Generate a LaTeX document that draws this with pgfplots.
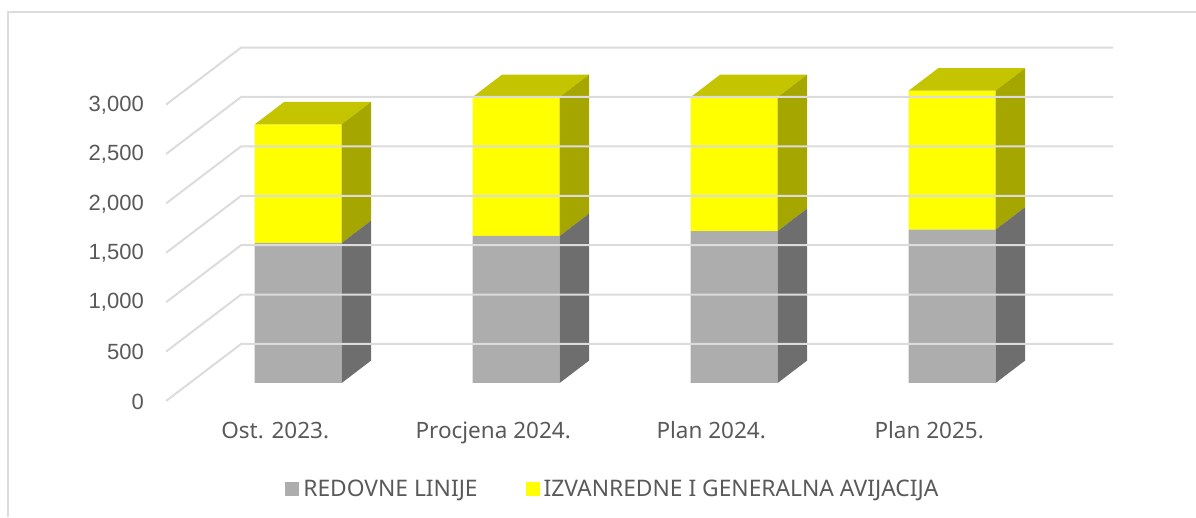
\documentclass[border=0pt]{standalone}
\usepackage{fontspec}
\setmainfont{Liberation Sans}
\newfontfamily\labfont{Noto Sans}
\usepackage{pgfplots}
\pgfplotsset{compat=1.18}
\definecolor{txt}{HTML}{595959}
\definecolor{gridc}{HTML}{DCDCDC}
\definecolor{grayF}{HTML}{ADADAD}
\definecolor{grayS}{HTML}{6E6E6E}
\definecolor{yelF}{HTML}{FFFF00}
\definecolor{yelS}{HTML}{A6A600}
\definecolor{yelT}{HTML}{C4C400}
\pgfplotsset{
  gl/.style={sharp plot,no markers,stack plots=false,forget plot,draw=gridc,line width=2pt},
  face/.style={sharp plot,no markers,stack plots=false,forget plot,draw=none,fill=#1},
}
\begin{document}
\begin{tikzpicture}
\useasboundingbox (0,0) rectangle (1196pt,517pt);
\draw[gridc,line width=2pt] (8pt,0)--(8pt,505pt)--(1196pt,505pt);
\begin{axis}[
  at={(160pt,112pt)},anchor=south west,
  scale only axis,width=960pt,height=365pt,
  xmin=-0.634,xmax=3.770,ymin=-223,ymax=3472,
  clip=false,
  ybar stacked,bar width=0.399,
  axis line style={draw=none},
  major tick length=0pt,
  xtick={0,1,2,3},
  xticklabels={Ost. 2023.,Procjena 2024.,Plan 2024.,Plan 2025.},
  ytick={0,500,1000,1500,2000,2500,3000},
  scaled y ticks=false,
  /pgf/number format/.cd,1000 sep={,},assume math mode=true,
  /pgfplots/.cd,
  yticklabel style={font=\fontsize{22}{24}\selectfont,text=txt,anchor=east,inner sep=0pt,xshift=-16pt,yshift=-18.5pt},
  xticklabel style={font=\labfont\fontsize{22.5}{24}\selectfont,text=txt,anchor=base,inner sep=0pt,xshift=-23pt,yshift=-33pt},
  legend style={at={(axis cs:-0.06,-1070)},anchor=west,draw=none,fill=none,inner sep=0pt,
    font=\labfont\fontsize{22.8}{24}\selectfont,text=txt,legend columns=2,
    /tikz/every even column/.append style={column sep=46pt}},
  legend image code/.code={\fill[#1] (0pt,-7pt) rectangle (14pt,7pt);\path (0pt,0pt) rectangle (16pt,0pt);},
  legend cell align=left,
]
% gridlines: front end, back corner, right end
\addplot[gl] coordinates {(-0.606,-182)(-0.262,395)(3.738,395)};
\addplot[gl] coordinates {(-0.606,318)(-0.262,895)(3.738,895)};
\addplot[gl] coordinates {(-0.606,818)(-0.262,1395)(3.738,1395)};
\addplot[gl] coordinates {(-0.606,1318)(-0.262,1895)(3.738,1895)};
\addplot[gl] coordinates {(-0.606,1818)(-0.262,2395)(3.738,2395)};
\addplot[gl] coordinates {(-0.606,2318)(-0.262,2895)(3.738,2895)};
\addplot[gl] coordinates {(-0.606,2818)(-0.262,3395)(3.738,3395)};
% side and top faces
\addplot[face=grayS] coordinates {(0.1995,0)(0.3345,227)(0.3345,1644)(0.1995,1417)};
\addplot[face=yelS] coordinates {(0.1995,1417)(0.3345,1644)(0.3345,2845)(0.1995,2618)};
\addplot[face=yelT] coordinates {(-0.1995,2618)(0.1995,2618)(0.3345,2845)(-0.0645,2845)};
\addplot[face=grayS] coordinates {(1.1995,0)(1.3345,227)(1.3345,1715)(1.1995,1488)};
\addplot[face=yelS] coordinates {(1.1995,1488)(1.3345,1715)(1.3345,3122)(1.1995,2895)};
\addplot[face=yelT] coordinates {(0.8005,2895)(1.1995,2895)(1.3345,3122)(0.9355,3122)};
\addplot[face=grayS] coordinates {(2.1995,0)(2.3345,227)(2.3345,1765)(2.1995,1538)};
\addplot[face=yelS] coordinates {(2.1995,1538)(2.3345,1765)(2.3345,3121)(2.1995,2894)};
\addplot[face=yelT] coordinates {(1.8005,2894)(2.1995,2894)(2.3345,3121)(1.9355,3121)};
\addplot[face=grayS] coordinates {(3.1995,0)(3.3345,227)(3.3345,1779)(3.1995,1552)};
\addplot[face=yelS] coordinates {(3.1995,1552)(3.3345,1779)(3.3345,3186)(3.1995,2959)};
\addplot[face=yelT] coordinates {(2.8005,2959)(3.1995,2959)(3.3345,3186)(2.9355,3186)};
% front faces
\addplot[fill=grayF,draw=none] coordinates {(0,1417)(1,1488)(2,1538)(3,1552)};
\addlegendentry{REDOVNE LINIJE}
\addplot[fill=yelF,draw=none] coordinates {(0,1201)(1,1407)(2,1356)(3,1407)};
\addlegendentry{IZVANREDNE I GENERALNA AVIJACIJA}
\end{axis}
\end{tikzpicture}
\end{document}
